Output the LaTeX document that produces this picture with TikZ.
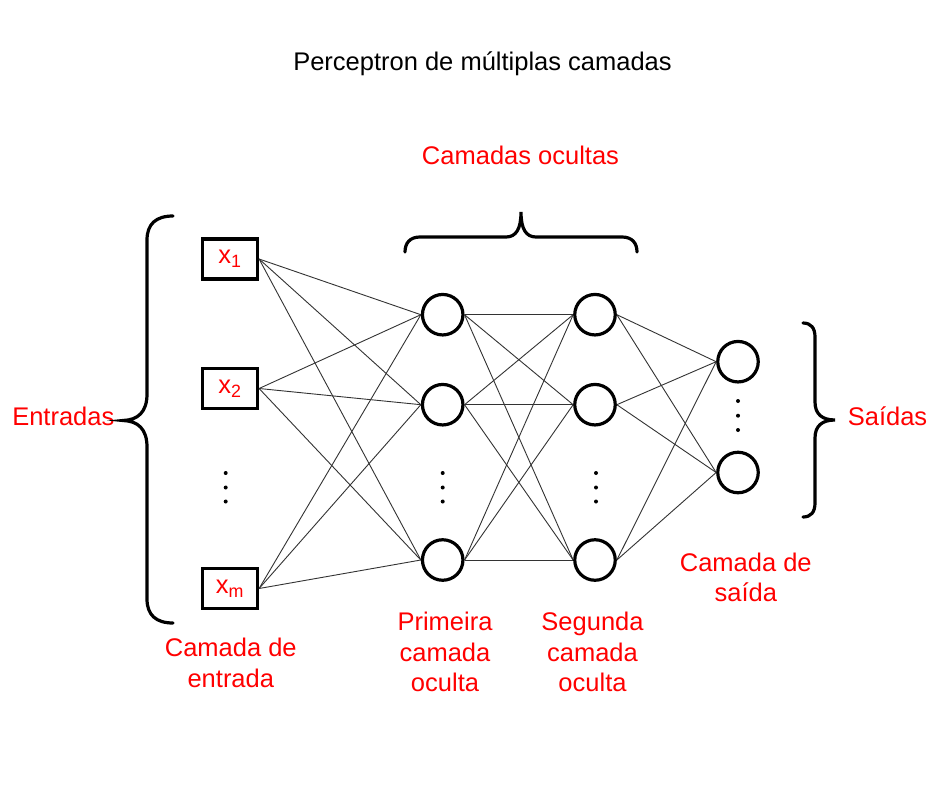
\documentclass[tikz,border=0pt]{standalone}
\usepackage{fontspec}
\setmainfont{Liberation Sans}
\begin{document}
\begin{tikzpicture}[x=1pt,y=-1pt,
  inbox/.style={draw, line width=3.2pt, minimum width=55pt, minimum height=40pt, inner sep=0pt, text=red, font=\fontsize{25.5}{30}\selectfont},
  neuron/.style={draw, circle, line width=3.2pt, minimum size=40.5pt, inner sep=0pt},
  lbl/.style={text=red, font=\fontsize{25.5}{30.5}\selectfont, align=center, anchor=base, inner sep=0pt},
  ttl/.style={text=black, font=\fontsize{25.5}{30.5}\selectfont, anchor=base, inner sep=0pt},
  edge/.style={draw=black!80, line width=0.9pt},
  brace/.style={draw, line width=3.2pt, line cap=round},
  dotc/.style={fill, circle, inner sep=0pt, minimum size=4pt}
]
\useasboundingbox (0,0) rectangle (939,795);
\fill[white] (0,0) rectangle (939,795);

% title and labels (base anchor = baseline of last line)
\node[ttl] (title) at (482.5,70.7) {Perceptron de múltiplas camadas};
\node[lbl] (lhid) at (520.5,164) {Camadas ocultas};
\node[lbl] (lin) at (63.3,425) {Entradas};
\node[lbl] (lout) at (887.5,425) {Saídas};
\node[lbl] (lcin) at (230.8,687) {Camada de\\entrada};
\node[lbl] (lh1) at (445,691.7) {Primeira\\camada\\oculta};
\node[lbl] (lh2) at (592.5,691.7) {Segunda\\camada\\oculta};
\node[lbl] (lco) at (745.8,601.7) {Camada de\\saída};

% input boxes
\node[inbox] (i1) at (230,259) {x\textsubscript{1}};
\node[inbox] (i2) at (230,388.5) {x\textsubscript{2}};
\node[inbox] (i3) at (230,588.5) {x\textsubscript{m}};

% hidden layer 1
\node[neuron] (a1) at (442.7,314.7) {};
\node[neuron] (a2) at (442.7,404.7) {};
\node[neuron] (a3) at (442.7,560) {};
% hidden layer 2
\node[neuron] (b1) at (595,314.7) {};
\node[neuron] (b2) at (595,404.7) {};
\node[neuron] (b3) at (595,560) {};
% output
\node[neuron] (o1) at (738,361.7) {};
\node[neuron] (o2) at (738,472.5) {};

% vertical dots
\foreach \x/\n in {225.7/di, 442.7/da, 596/db} {
  \node[dotc] (\n1) at (\x,473) {};
  \node[dotc] (\n2) at (\x,487.5) {};
  \node[dotc] (\n3) at (\x,501.5) {};
}
\node[dotc] (do1) at (738,401) {};
\node[dotc] (do2) at (738,415.7) {};
\node[dotc] (do3) at (738,430) {};

% connections
\foreach \s in {i1,i2,i3} \foreach \t in {a1,a2,a3} \draw[edge] (\s.east) -- (\t.west);
\foreach \s in {a1,a2,a3} \foreach \t in {b1,b2,b3} \draw[edge] (\s.east) -- (\t.west);
\foreach \s in {b1,b2,b3} \foreach \t in {o1,o2} \draw[edge] (\s.east) -- (\t.west);

% braces
\draw[brace] (173,216) .. controls (156,216) and (147,224) .. (147,240)
  -- (147,394) .. controls (147,412) and (138,420) .. (123,420.5)
  .. controls (138,421) and (147,429) .. (147,447)
  -- (147,599) .. controls (147,615) and (156,623) .. (173,623);
\draw[brace] (405,252) .. controls (405,243) and (410,237) .. (420,237)
  -- (506,237) .. controls (516,237) and (521,229) .. (521,212)
  .. controls (521,229) and (526,237) .. (536,237)
  -- (622,237) .. controls (632,237) and (637,243) .. (637,252);
\draw[brace] (803,323) .. controls (811,323) and (815,328) .. (815,337)
  -- (815,402) .. controls (815,414) and (822,420) .. (835,420)
  .. controls (822,420) and (815,426) .. (815,438)
  -- (815,503) .. controls (815,512) and (811,517) .. (803,517);
\end{tikzpicture}
\end{document}
